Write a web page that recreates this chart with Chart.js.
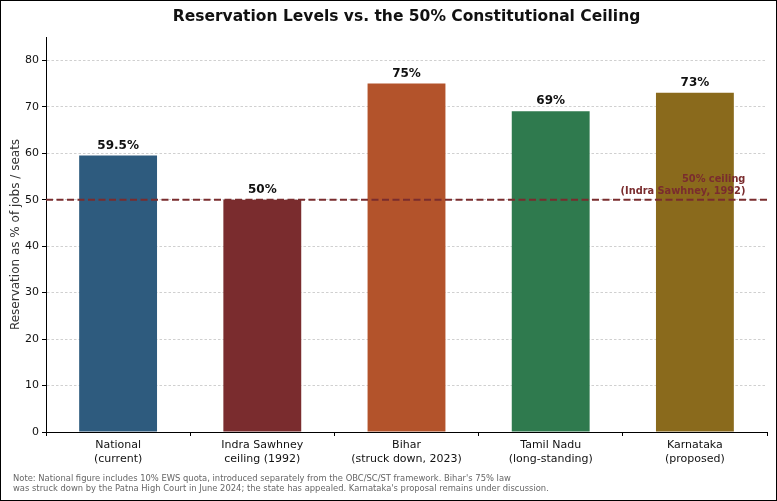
<!DOCTYPE html>
<html>
<head>
<meta charset="utf-8">
<script src="https://cdn.jsdelivr.net/npm/chart.js@4.4.1/dist/chart.umd.min.js"></script>
<style>
html,body{margin:0;padding:0;background:#fff;}
#wrap{position:relative;width:777px;height:501px;box-sizing:border-box;border:1px solid #000;overflow:hidden;}
#c{position:absolute;left:-1px;top:-1px;}
</style>
</head>
<body>
<div id="wrap"><canvas id="c" width="777" height="501"></canvas></div>
<script>
const categories = [["National","(current)"],["Indra Sawhney","ceiling (1992)"],["Bihar","(struck down, 2023)"],["Tamil Nadu","(long-standing)"],["Karnataka","(proposed)"]];
const values = [59.5, 50, 75, 69, 73];
const valueLabels = ["59.5%","50%","75%","69%","73%"];
const barColors = ["#2e5b7e","#7a2c2e","#b3532b","#2f7a4e","#8a6a1c"];
const yTicks = [0,10,20,30,40,50,60,70,80];
const CEILING = 50;
const titleText = "Reservation Levels vs. the 50% Constitutional Ceiling";
const yTitle = "Reservation as % of jobs / seats";
const ceilingLabel = ["50% ceiling","(Indra Sawhney, 1992)"];
const footnote = ["Note: National figure includes 10% EWS quota, introduced separately from the OBC/SC/ST framework. Bihar's 75% law",
 "was struck down by the Patna High Court in June 2024; the state has appealed. Karnataka's proposal remains under discussion."];

const FONT = "'DejaVu Sans', sans-serif";

const overlay = {
  id:'overlay',
  afterDatasetsDraw(chart){
    const {ctx, chartArea, scales:{x,y}} = chart;
    ctx.save();
    // ceiling line
    const yp = y.getPixelForValue(CEILING);
    ctx.strokeStyle = '#7a2c2e';
    ctx.lineWidth = 2;
    ctx.setLineDash([7,3.5]);
    ctx.beginPath();
    ctx.moveTo(chartArea.left, yp);
    ctx.lineTo(chartArea.right, yp);
    ctx.stroke();
    ctx.setLineDash([]);
    // value labels
    ctx.fillStyle = '#111';
    ctx.font = "bold 12px " + FONT;
    ctx.textAlign = 'center';
    ctx.textBaseline = 'bottom';
    const meta = chart.getDatasetMeta(0);
    meta.data.forEach((bar,i)=>{
      ctx.fillText(valueLabels[i], bar.x, y.getPixelForValue(values[i]) - 4);
    });
    // ceiling annotation
    ctx.fillStyle = '#7a2c2e';
    ctx.font = "bold 9.8px " + FONT;
    ctx.textAlign = 'right';
    ctx.textBaseline = 'middle';
    const spacing = x.getPixelForValue(1) - x.getPixelForValue(0);
    const ax = x.getPixelForValue(4) + 0.35*spacing;
    const ay = y.getPixelForValue(CEILING + 1.8);
    ctx.fillText(ceilingLabel[1], ax, ay);
    ctx.fillText(ceilingLabel[0], ax, ay - 11.5);
    ctx.restore();
  },
  afterDraw(chart){
    const {ctx, chartArea} = chart;
    ctx.save();
    ctx.fillStyle = '#111';
    ctx.font = "bold 15.5px " + FONT;
    ctx.textAlign = 'center';
    ctx.textBaseline = 'middle';
    ctx.fillText(titleText, (chartArea.left + chartArea.right)/2, 17);
    ctx.fillStyle = '#666';
    ctx.font = "8.4px " + FONT;
    ctx.textAlign = 'left';
    ctx.fillText(footnote[0], 13, 479);
    ctx.fillText(footnote[1], 13, 489);
    ctx.restore();
  }
};

new Chart(document.getElementById('c'), {
  type:'bar',
  data:{
    labels: categories,
    datasets:[{
      data: values,
      backgroundColor: barColors,
      borderWidth: 0,
      barPercentage: 0.54,
      categoryPercentage: 1.0
    }]
  },
  options:{
    responsive:false,
    animation:false,
    devicePixelRatio:1,
    layout:{padding:{left:0,right:10,top:37,bottom:29}},
    plugins:{legend:{display:false},title:{display:false},tooltip:{enabled:false}},
    scales:{
      x:{
        grid:{drawOnChartArea:false, drawTicks:true, tickLength:4, tickColor:'#000'},
        border:{display:true,color:'#000',width:1},
        ticks:{color:'#111',font:{family:FONT,size:11,lineHeight:1.2},padding:3,maxRotation:0,autoSkip:false},
        afterFit(s){ s.height = 40; }
      },
      y:{
        min:0,max:85,
        afterBuildTicks(s){ s.ticks = yTicks.map(v=>({value:v})); },
        grid:{color:'#c4c4c4',lineWidth:0.8,tickColor:'#000',tickLength:4,tickWidth:1,tickBorderDash:[]},
        border:{display:true,color:'#000',width:1,dash:[2.5,2]},
        ticks:{color:'#111',font:{family:FONT,size:11},padding:3},
        title:{display:true,text:yTitle,color:'#333',font:{family:FONT,size:12},padding:{top:9,bottom:0}},
        afterFit(s){ s.width = 46; }
      }
    }
  },
  plugins:[overlay]
});
</script>
</body>
</html>
